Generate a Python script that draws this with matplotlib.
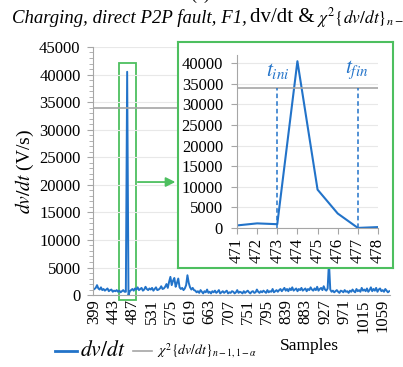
import numpy as np
import matplotlib.pyplot as plt
from matplotlib.lines import Line2D
from matplotlib.patches import Rectangle

plt.rcParams['font.family'] = ['Liberation Serif', 'DejaVu Serif']
plt.rcParams['mathtext.fontset'] = 'stix'

# main series, one value every 3 samples starting at 399
samples = np.arange(399, 1075, 3)
dvdt = ([1100, 1300, 1800, 1200, 1000, 1400, 900, 1100, 800, 1000, 1200, 700, 900, 1000, 600, 800, 700, 900]
        + [600, 800, 500, 700, 900, 600]
        + [600, 40500, 0]
        + [700, 900, 1100, 800, 1200, 1000, 1400, 900, 1100, 1300, 800, 1000, 1500, 1100, 900, 1200, 1000,
           1300, 800, 1100, 1400, 900, 1000, 1200, 1600, 1100]
        + [1200, 1500, 2000, 1300, 2400, 3300, 1800, 2600, 3100, 1500, 2200, 3000, 1400, 1100, 1300, 900]
        + [1200, 1800, 3600, 2200, 1400, 1000, 1300, 900]
        + [800, 500, 700, 400, 900, 600, 300, 700, 500, 1000, 400, 600, 300, 700, 500, 800, 400, 600, 900, 300,
           500, 700, 400, 600, 800, 300, 500, 400, 700, 600, 300, 500, 900, 400, 600, 500, 300, 700, 400, 600,
           800, 500, 300, 600, 700, 400, 500, 1000, 600, 400, 700, 500, 800, 600, 400, 900, 500, 700, 600, 1100,
           500, 700, 900, 600]
        + [900, 1100, 700, 1000, 1300, 800, 1100, 700, 1200, 900, 1400, 800, 1000, 1200, 700, 1100, 900, 1300, 800, 1000,
           1200, 700, 1100, 900, 1400, 1000, 800, 1200, 900, 1500, 800, 1100, 1300, 900, 1600, 1000, 800, 1200]
        + [6000]
        + [1000, 600, 800, 500, 700, 900, 600, 400, 800, 700, 500, 900, 600, 700, 400, 800, 600, 1000, 700, 500,
           1100, 700, 900, 600, 1300, 800, 1000, 700, 1200, 600, 900, 1400, 700, 1100, 800, 1300, 600, 1000, 1200, 700,
           900, 600, 1100, 800, 500, 700])

# zoomed window
zoom_samples = [471, 472, 473, 474, 475, 476, 477, 478]
zoom_dvdt = [600, 1100, 900, 40500, 9300, 3500, 0, 200]

threshold = 34000
t_ini = 473
t_fin = 477

main_ticks = list(range(399, 1060, 44))

blue = '#2273C9'
grey = '#A6A6A6'
green = '#4DBF5F'
W, H = 403, 367

fig = plt.figure(figsize=(4.03, 3.67), dpi=100)

ax = fig.add_axes([0.231, 0.196, 0.737, 0.676])
ax.plot(samples, dvdt, color=blue, lw=1.4)
ax.axhline(threshold, color=grey, lw=1.2)
ax.set_xlim(396, 1076)
ax.set_ylim(0, 45000)
ax.set_yticks(range(0, 45001, 5000))
ax.set_yticks(range(0, 45001, 1000), minor=True)
ax.set_xticks(main_ticks)
ax.set_xticklabels([str(v) for v in main_ticks], rotation=90)
ax.tick_params(axis='y', labelsize=12, length=4, color=grey, pad=5)
ax.tick_params(axis='y', which='minor', length=3, color=grey)
ax.tick_params(axis='x', labelsize=12, length=0, pad=3)
ax.grid(axis='y', color='#E8E8E8', lw=0.8)
for s in ['top', 'right']:
    ax.spines[s].set_visible(False)
ax.spines['left'].set_color(grey)
ax.spines['bottom'].set_color(grey)
ax.set_ylabel(r'$dv/dt$ (V/s)', fontsize=14, labelpad=2)

# green box around the spike
ax.add_patch(Rectangle((456, -900), 38, 43000, fill=False, ec=green, lw=1.3, clip_on=False))

# frame of the zoom
fr = fig.add_axes([0.442, 0.270, 0.533, 0.616])
fr.set_xticks([])
fr.set_yticks([])
for s in fr.spines.values():
    s.set_color(green)
    s.set_linewidth(1.5)

ins = fig.add_axes([0.588, 0.379, 0.350, 0.471])
ins.plot(zoom_samples, zoom_dvdt, color=blue, lw=1.5)
ins.axhline(threshold, color=grey, lw=1.2)
ins.plot([t_ini, t_ini], [0, threshold], color=blue, lw=1.1, ls=(0, (3, 2)))
ins.plot([t_fin, t_fin], [0, threshold], color=blue, lw=1.1, ls=(0, (3, 2)))
ins.text(t_ini + 0.05, 35800, r'$t_{ini}$', color=blue, fontsize=15.5, ha='center', va='bottom')
ins.text(t_fin - 0.05, 35800, r'$t_{fin}$', color=blue, fontsize=15.5, ha='center', va='bottom')
ins.set_xlim(471, 478)
ins.set_ylim(0, 42000)
ins.set_yticks(range(0, 40001, 5000))
ins.set_xticks(zoom_samples)
ins.set_xticklabels([str(v) for v in zoom_samples], rotation=90)
ins.tick_params(labelsize=12, length=4, color=grey)
ins.tick_params(axis='y', pad=6)
ins.grid(axis='y', color='#E8E8E8', lw=0.8)
for s in ['top', 'right']:
    ins.spines[s].set_visible(False)
ins.spines['left'].set_color(grey)
ins.spines['bottom'].set_color(grey)

ax.annotate('', xy=(0.442, 0.504), xytext=(0.335, 0.504), xycoords='figure fraction',
            textcoords='figure fraction',
            arrowprops=dict(arrowstyle='-|>', color=green, lw=1.3, mutation_scale=14))

# title in three pieces
ty = 1 - 18 / H
fig.text(12 / W, ty, 'Charging, direct P2P fault, F1,', ha='left', va='center',
         fontsize=13.5, style='italic')
fig.text(250 / W, ty, 'dv/dt &', ha='left', va='center', fontsize=15)
fig.text(317 / W, ty, r'$\chi^2\{dv/dt\}_{n-1,1-\alpha}$', ha='left', va='center', fontsize=12.5)
fig.text(200 / W, 1 - 3 / H, '(a)', ha='center', va='bottom', fontsize=13)

# legend drawn by hand to get the two label sizes
ly = 1 - 351 / H
fig.add_artist(Line2D([55 / W, 77 / W], [ly, ly], color=blue, lw=2))
fig.text(80 / W, ly, r'$dv/dt$', ha='left', va='center', fontsize=15.5)
fig.add_artist(Line2D([133 / W, 152 / W], [ly, ly], color=grey, lw=1.2))
fig.text(157 / W, ly, r'$\chi^2\{dv/dt\}_{n-1,1-\alpha}$', ha='left', va='center', fontsize=10)
fig.text(280 / W, 1 - 346 / H, 'Samples', ha='left', va='center', fontsize=12.5)

fig.savefig('out.png', dpi=100)
